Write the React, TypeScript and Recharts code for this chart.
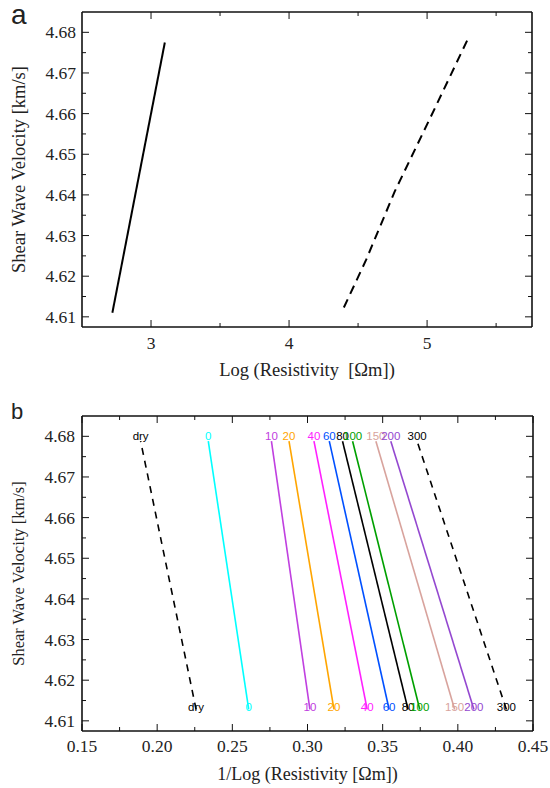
import React from 'react';
import { LineChart, Line, XAxis, YAxis } from 'recharts';

// ---------- Panel a data ----------
const aSolidRes = [2.72, 3.1];
const aSolidVel = [4.611, 4.6775];
const aDashedRes = [4.397, 4.558, 4.765, 5.056, 5.296];
const aDashedVel = [4.6123, 4.624, 4.6408, 4.6613, 4.6784];
const aResTicks = [3, 3.5, 4, 4.5, 5, 5.5];
const aResMajor = [3, 4, 5];

// ---------- Panel b data ----------
const bNames = ['dry', '0', '10', '20', '40', '60', '80', '100', '150', '200', '300'];
const bTopX = [0.189, 0.234, 0.276, 0.2877, 0.3043, 0.3145, 0.3233, 0.33, 0.3455, 0.3554, 0.3729];
const bBotX = [0.2259, 0.2609, 0.3016, 0.3176, 0.3397, 0.3543, 0.3669, 0.3747, 0.3979, 0.4107, 0.4323];
const bColors = ['#000000', '#00FFFF', '#C040E0', '#FFA500', '#FF20FF', '#0050FF', '#000000', '#00A000', '#D8A39D', '#9448D0', '#000000'];
const bDashed = [true, false, false, false, false, false, false, false, false, false, true];
const bVelTop = 4.6788;
const bVelBot = 4.6128;
const bInvTicks = [0.15, 0.175, 0.2, 0.225, 0.25, 0.275, 0.3, 0.325, 0.35, 0.375, 0.4, 0.425, 0.45];
const bInvMajor = [0.15, 0.2, 0.25, 0.3, 0.35, 0.4, 0.45];

// ---------- shared ----------
const velTicks = [4.61, 4.615, 4.62, 4.625, 4.63, 4.635, 4.64, 4.645, 4.65, 4.655, 4.66, 4.665, 4.67, 4.675, 4.68];
const velMajor = [4.61, 4.62, 4.63, 4.64, 4.65, 4.66, 4.67, 4.68];
const velDomain: [number, number] = [4.6075, 4.685];

const SERIF = '"Liberation Serif", "DejaVu Serif", serif';
const SANS = '"Liberation Sans", Arial, sans-serif';
const FRAME = '#111';
const MAJOR_LEN = 7;
const MINOR_LEN = 4;

const isMajor = (v: number, majors: number[]) => majors.some((m) => Math.abs(m - v) < 1e-9);

const makeTick = (side: 'left' | 'right' | 'top' | 'bottom', majors: number[], fmt?: (v: number) => string, gap = 6) =>
  (props: any) => {
    const { x, y, payload } = props;
    const v = payload.value;
    const major = isMajor(v, majors);
    const len = major ? MAJOR_LEN : MINOR_LEN;
    let line;
    let label = null;
    if (side === 'left') {
      line = <line x1={x} y1={y} x2={x + len} y2={y} stroke={FRAME} strokeWidth={1} />;
      if (major && fmt) label = (
        <text x={x - gap} y={y} textAnchor="end" dominantBaseline="central" fontFamily={SERIF} fontSize={17.5} fill="#222">{fmt(v)}</text>
      );
    } else if (side === 'right') {
      line = <line x1={x} y1={y} x2={x - len} y2={y} stroke={FRAME} strokeWidth={1} />;
    } else if (side === 'top') {
      line = <line x1={x} y1={y} x2={x} y2={y + len} stroke={FRAME} strokeWidth={1} />;
    } else {
      line = <line x1={x} y1={y} x2={x} y2={y - len} stroke={FRAME} strokeWidth={1} />;
      if (major && fmt) label = (
        <text x={x} y={y + gap} textAnchor="middle" dominantBaseline="central" fontFamily={SERIF} fontSize={17.5} fill="#222">{fmt(v)}</text>
      );
    }
    return (
      <g>
        {line}
        {label}
      </g>
    );
  };

const yLabel = (text: string, cx: number, size: number) => (props: any) => {
  const vb = props.viewBox;
  const cy = vb.y + vb.height / 2;
  return (
    <text x={cx} y={cy} transform={`rotate(-90 ${cx} ${cy})`} textAnchor="middle" dominantBaseline="central" fontFamily={SERIF} fontSize={size} fill="#222">
      {text}
    </text>
  );
};

const xLabel = (text: string, dy: number, size: number) => (props: any) => {
  const vb = props.viewBox;
  const cx = vb.x + vb.width / 2;
  return (
    <text x={cx} y={vb.y + dy} textAnchor="middle" dominantBaseline="central" fontFamily={SERIF} fontSize={size} fill="#222">
      {text}
    </text>
  );
};

const axisLineStyle = { stroke: FRAME, strokeWidth: 1.6 };

export default function App() {
  const aSolid = aSolidRes.map((r, i) => ({ x: r, v: aSolidVel[i] }));
  const aDashed = aDashedRes.map((r, i) => ({ x: r, v: aDashedVel[i] }));
  const bSeries = bNames.map((n, i) => ({
    name: n,
    color: bColors[i],
    dashed: bDashed[i],
    data: [
      { x: bBotX[i], v: bVelBot },
      { x: bTopX[i], v: bVelTop },
    ],
  }));

  return (
    <div style={{ position: 'absolute', left: 0, top: 0, width: 550, height: 788, background: '#fff' }}>
      <div style={{ position: 'absolute', left: 0, top: 0 }}>
        <LineChart width={550} height={395} margin={{ top: 11, right: 17, bottom: 0, left: 0 }}>
          <XAxis
            type="number"
            dataKey="x"
            domain={[2.5, 5.76]}
            ticks={aResTicks}
            interval={0}
            allowDataOverflow
            height={68}
            tickSize={0}
            tickMargin={0}
            tickLine={false}
            axisLine={axisLineStyle}
            tick={makeTick('bottom', aResMajor, (v) => String(v), 16)}
            label={{ content: xLabel('Log (Resistivity\u00A0\u00A0[\u03A9m])', 43, 18.5) } as any}
          />
          <XAxis
            xAxisId="top"
            orientation="top"
            type="number"
            dataKey="x"
            domain={[2.5, 5.76]}
            ticks={aResTicks}
            interval={0}
            allowDataOverflow
            height={1}
            tickSize={0}
            tickMargin={0}
            tickLine={false}
            axisLine={axisLineStyle}
            tick={makeTick('top', aResMajor)}
          />
          <YAxis
            type="number"
            dataKey="v"
            domain={velDomain}
            ticks={velTicks}
            interval={0}
            allowDataOverflow
            width={82}
            tickSize={0}
            tickMargin={0}
            tickLine={false}
            axisLine={axisLineStyle}
            tick={makeTick('left', velMajor, (v) => v.toFixed(2), 6)}
            label={{ content: yLabel('Shear Wave Velocity [km/s]', 18.5, 18.5) } as any}
          />
          <YAxis
            yAxisId="right"
            orientation="right"
            type="number"
            dataKey="v"
            domain={velDomain}
            ticks={velTicks}
            interval={0}
            allowDataOverflow
            width={1}
            tickSize={0}
            tickMargin={0}
            tickLine={false}
            axisLine={axisLineStyle}
            tick={makeTick('right', velMajor)}
          />
          <Line data={aSolid} dataKey="v" stroke="#000" strokeWidth={2} dot={false} isAnimationActive={false} />
          <Line data={aDashed} dataKey="v" stroke="#000" strokeWidth={2} strokeDasharray="9 6" dot={false} isAnimationActive={false} />
          <Line xAxisId="top" yAxisId="right" data={aSolid} dataKey="v" stroke="none" strokeWidth={0} dot={false} activeDot={false} legendType="none" isAnimationActive={false} />
        </LineChart>
      </div>
      <div style={{ position: 'absolute', left: 0, top: 395 }}>
        <LineChart width={550} height={393} margin={{ top: 20, right: 16, bottom: 0, left: 0 }}>
          <XAxis
            type="number"
            dataKey="x"
            domain={[0.15, 0.45]}
            ticks={bInvTicks}
            interval={0}
            allowDataOverflow
            height={57}
            tickSize={0}
            tickMargin={0}
            tickLine={false}
            axisLine={axisLineStyle}
            tick={makeTick('bottom', bInvMajor, (v) => v.toFixed(2), 15)}
            label={{ content: xLabel('1/Log (Resistivity [\u03A9m])', 43, 18) } as any}
          />
          <XAxis
            xAxisId="top"
            orientation="top"
            type="number"
            dataKey="x"
            domain={[0.15, 0.45]}
            ticks={bInvTicks}
            interval={0}
            allowDataOverflow
            height={1}
            tickSize={0}
            tickMargin={0}
            tickLine={false}
            axisLine={axisLineStyle}
            tick={makeTick('top', bInvMajor)}
          />
          <YAxis
            type="number"
            dataKey="v"
            domain={velDomain}
            ticks={velTicks}
            interval={0}
            allowDataOverflow
            width={82}
            tickSize={0}
            tickMargin={0}
            tickLine={false}
            axisLine={axisLineStyle}
            tick={makeTick('left', velMajor, (v) => v.toFixed(2), 7)}
            label={{ content: yLabel('Shear Wave Velocity [km/s]', 18.5, 16.5) } as any}
          />
          <YAxis
            yAxisId="right"
            orientation="right"
            type="number"
            dataKey="v"
            domain={velDomain}
            ticks={velTicks}
            interval={0}
            allowDataOverflow
            width={1}
            tickSize={0}
            tickMargin={0}
            tickLine={false}
            axisLine={axisLineStyle}
            tick={makeTick('right', velMajor)}
          />
          {bSeries.map((s) => (
            <Line
              key={s.name}
              data={s.data}
              dataKey="v"
              stroke={s.color}
              strokeWidth={1.6}
              strokeDasharray={s.dashed ? '7 6' : undefined}
              dot={false}
              isAnimationActive={false}
              label={(p: any) => (
                <text
                  key={`${s.name}-${p.index}`}
                  x={p.x}
                  y={p.index === 1 ? p.y - 5.5 : p.y - 2}
                  textAnchor="middle"
                  dominantBaseline="central"
                  fontFamily={SANS}
                  fontSize={11.5}
                  fill={s.color}
                >
                  {s.name}
                </text>
              )}
            />
          ))}
          <Line xAxisId="top" yAxisId="right" data={bSeries[0].data} dataKey="v" stroke="none" strokeWidth={0} dot={false} activeDot={false} legendType="none" isAnimationActive={false} />
        </LineChart>
      </div>
      <svg width={550} height={788} style={{ position: 'absolute', left: 0, top: 0, pointerEvents: 'none' }}>
        <text x={11} y={24} fontFamily={SANS} fontSize={28} fill="#222">a</text>
        <text x={11} y={419} fontFamily={SANS} fontSize={22} fill="#222">b</text>
      </svg>
    </div>
  );
}
